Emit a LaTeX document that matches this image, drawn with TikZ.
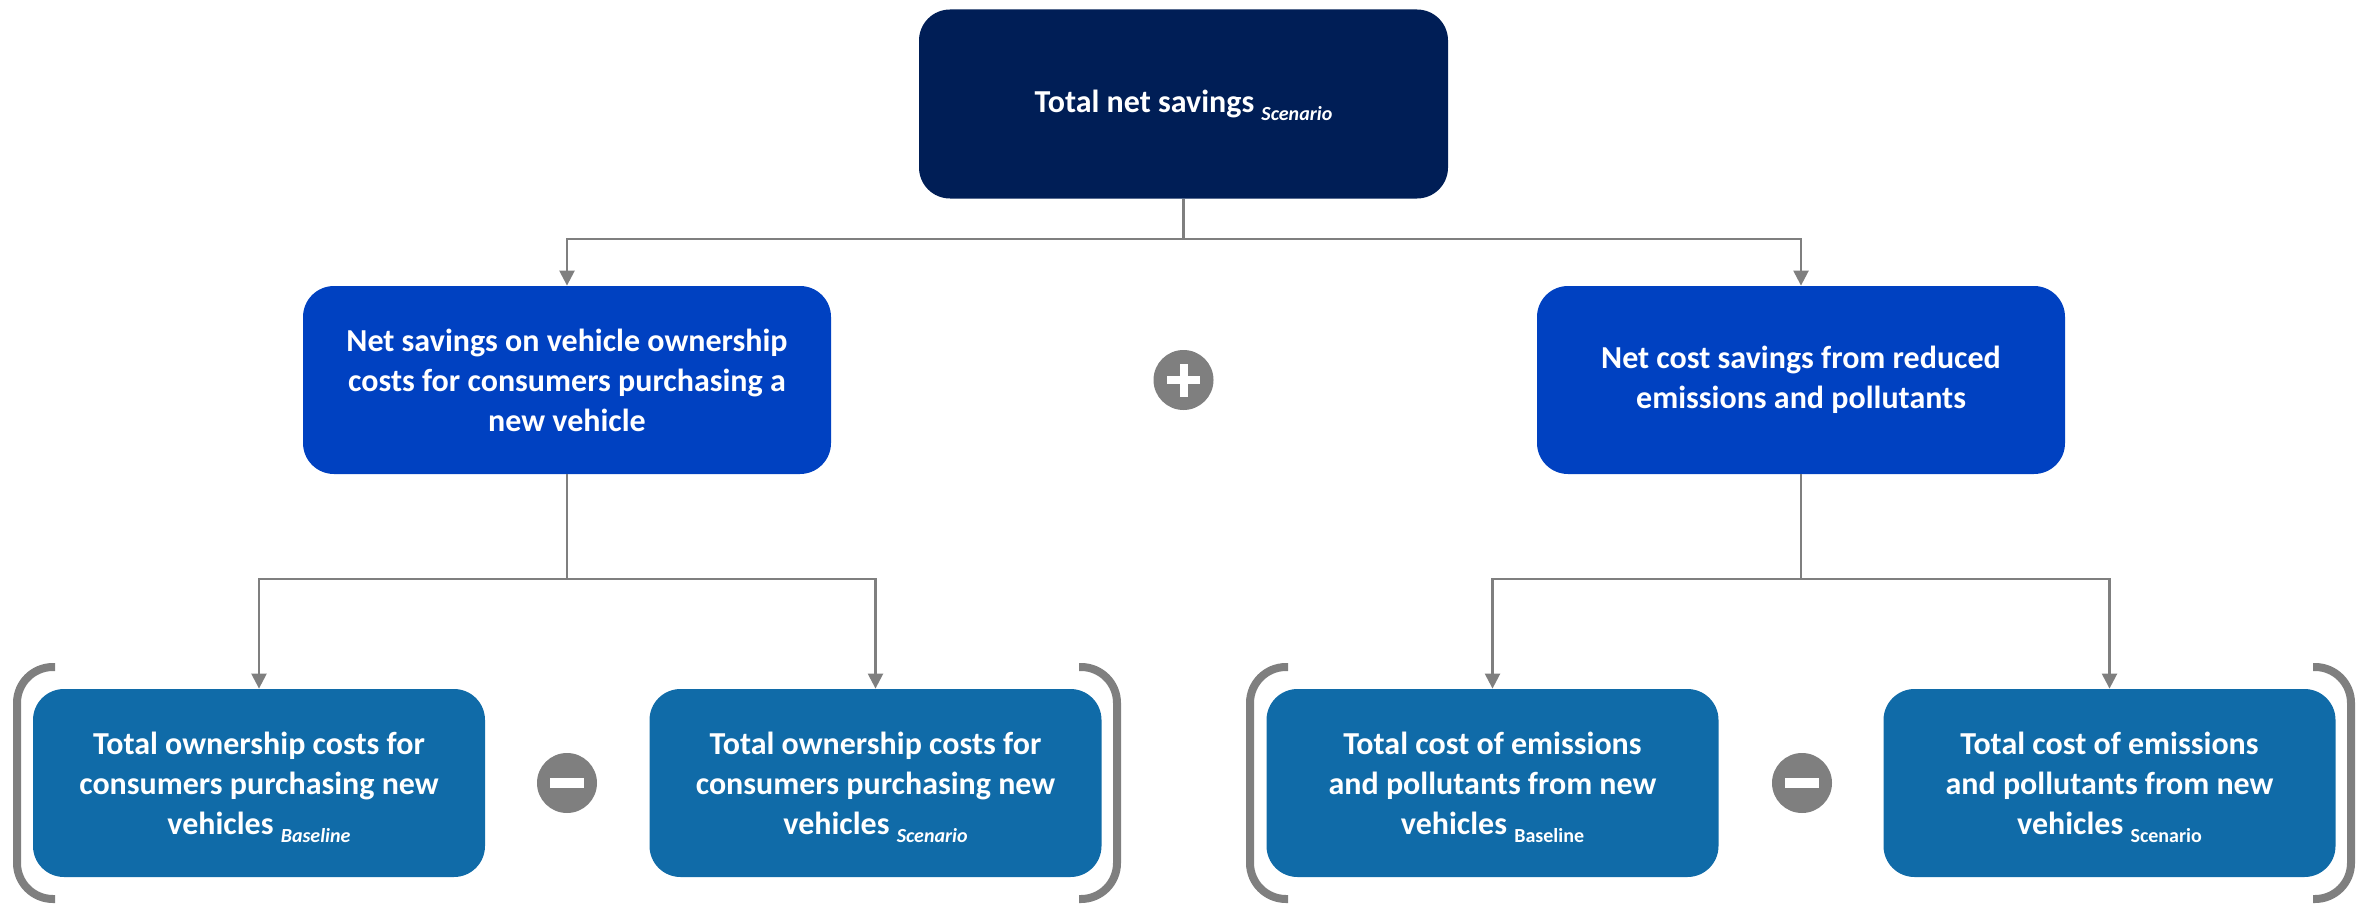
\documentclass[tikz,border=0pt]{standalone}
\usepackage{fontspec}
\setmainfont{Carlito}
\usetikzlibrary{arrows.meta}

\definecolor{navybox}{HTML}{001E56}
\definecolor{bluebox}{HTML}{0041C1}
\definecolor{steelbox}{HTML}{106BA8}
\definecolor{linegrey}{HTML}{7F7F7F}

\newcommand\subtxt[1]{\smash{\raisebox{-4pt}{\fontsize{10}{10}\selectfont\itshape #1}}}
\newcommand\subup[1]{\smash{\raisebox{-4pt}{\fontsize{10}{10}\selectfont #1}}}

\tikzset{
  box/.style={rectangle, rounded corners=15.5pt, inner sep=0pt, text=white, align=center,
    font=\fontsize{16}{20}\selectfont\bfseries},
  topbox/.style={box, fill=navybox, minimum width=264.5pt, minimum height=94.5pt},
  midbox/.style={box, fill=bluebox, minimum width=264pt, minimum height=94pt},
  lowbox/.style={box, fill=steelbox, minimum width=226pt, minimum height=94pt},
  conn/.style={draw=linegrey, line width=1.2pt, -{Triangle[length=7.5pt,width=7.5pt]}},
  stem/.style={draw=linegrey, line width=1.2pt},
  sign/.style={circle, fill=linegrey, minimum size=30pt, inner sep=0pt},
  bracket/.style={draw=linegrey, line width=4pt, rounded corners=18pt}
}

\begin{document}
\begin{tikzpicture}[x=0.5pt,y=-0.5pt]
\useasboundingbox (0,0) rectangle (2372,904);

\node[topbox] (total) at (1183.5,104) {Total net savings \subtxt{Scenario}};

\node[midbox] (own) at (567,380) {Net savings on vehicle ownership\\costs for consumers purchasing a\\new vehicle};
\node[midbox] (emis) at (1801,380) {Net cost savings from reduced\\emissions and pollutants};

\node[lowbox] (ownbase) at (259,783) {Total ownership costs for\\consumers purchasing new\\vehicles \subtxt{Baseline}};
\node[lowbox] (ownscen) at (875.5,783) {Total ownership costs for\\consumers purchasing new\\vehicles \subtxt{Scenario}};
\node[lowbox] (emisbase) at (1492.5,783) {Total cost of emissions\\and pollutants from new\\vehicles \subup{Baseline}};
\node[lowbox] (emisscen) at (2109.5,783) {Total cost of emissions\\and pollutants from new\\vehicles \subup{Scenario}};

\coordinate (fork) at (1183.5,239);
\coordinate (forkown) at (567,579);
\coordinate (forkemis) at (1801,579);

\draw[stem] (total.south) -- (fork);
\draw[conn] (fork) -| (own.north);
\draw[conn] (fork) -| (emis.north);
\draw[stem] (own.south) -- (forkown);
\draw[conn] (forkown) -| (ownbase.north);
\draw[conn] (forkown) -| (ownscen.north);
\draw[stem] (emis.south) -- (forkemis);
\draw[conn] (forkemis) -| (emisbase.north);
\draw[conn] (forkemis) -| (emisscen.north);

% plus and minus signs
\node[sign] (plus) at (1183.5,380) {};
\fill[white] (plus.center) ++(-16.5,-4) rectangle ++(33,8);
\fill[white] (plus.center) ++(-4,-16.5) rectangle ++(8,33);
\node[sign] (minusown) at (567,783) {};
\fill[white] (minusown.center) ++(-17,-5) rectangle ++(34,10);
\node[sign] (minusemis) at (1802,783) {};
\fill[white] (minusemis.center) ++(-17,-5) rectangle ++(34,10);

% brackets
\draw[bracket] (55,667) -- (17,667) -- (17,899) -- (55,899);
\draw[bracket] (1079,667) -- (1117,667) -- (1117,899) -- (1079,899);
\draw[bracket] (1288,667) -- (1250,667) -- (1250,899) -- (1288,899);
\draw[bracket] (2313,667) -- (2351,667) -- (2351,899) -- (2313,899);
\end{tikzpicture}
\end{document}
